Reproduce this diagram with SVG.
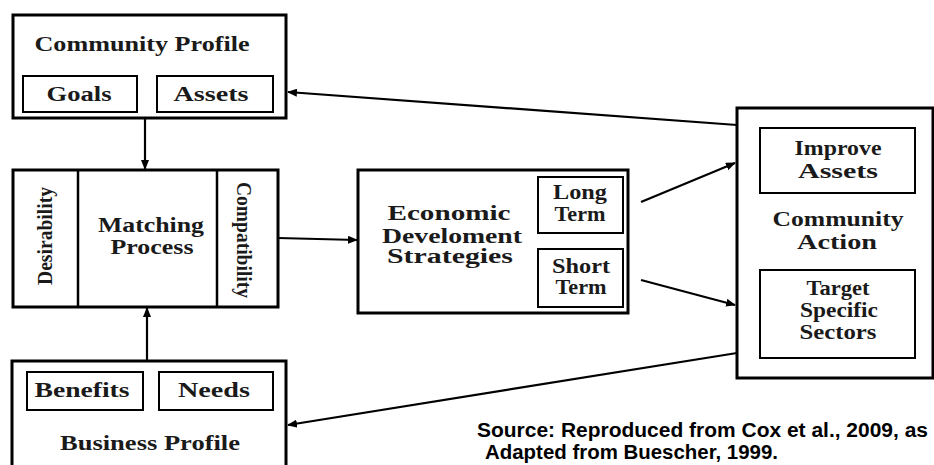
<svg xmlns="http://www.w3.org/2000/svg" width="934" height="465" viewBox="0 0 934 465">
<style>
.outer{fill:#fff;stroke:#000;stroke-width:3}
.inner{fill:#fff;stroke:#000;stroke-width:2}
.t{font-family:"Liberation Serif","Times New Roman",serif;font-weight:bold;font-size:20px;fill:#1a1a1a;text-anchor:middle}
.src{font-family:"Liberation Sans",Arial,sans-serif;font-weight:bold;font-size:19.5px;fill:#000}
.c{stroke:#000;stroke-width:2.2;fill:none;marker-end:url(#ah)}
</style>
<defs>
<marker id="ah" markerWidth="10" markerHeight="8" refX="9" refY="4" orient="auto" markerUnits="userSpaceOnUse">
<path d="M0,0 L10,4 L0,8 Z" fill="#000"/>
</marker>
</defs>
<rect width="934" height="465" fill="#fff"/>
<g id="community-profile">
<rect class="outer" x="13" y="15" width="273" height="103"/>
<text class="t" x="142" y="51" textLength="215" lengthAdjust="spacingAndGlyphs">Community Profile</text>
<rect class="inner" x="23" y="76" width="114" height="36"/>
<text class="t" x="79" y="101" textLength="65" lengthAdjust="spacingAndGlyphs">Goals</text>
<rect class="inner" x="157" y="76" width="116" height="36"/>
<text class="t" x="211" y="101" textLength="75" lengthAdjust="spacingAndGlyphs">Assets</text>
</g>
<g id="matching-process">
<rect class="outer" x="13" y="170" width="265" height="137"/>
<line x1="78" y1="170" x2="78" y2="307" stroke="#000" stroke-width="2.5"/>
<line x1="217" y1="170" x2="217" y2="307" stroke="#000" stroke-width="2.5"/>
<text class="t" transform="translate(52,236) rotate(-90)" textLength="98" lengthAdjust="spacingAndGlyphs">Desirability</text>
<text class="t" transform="translate(237,240) rotate(90)" textLength="116" lengthAdjust="spacingAndGlyphs">Compatibility</text>
<text class="t" x="151" y="232" textLength="106" lengthAdjust="spacingAndGlyphs">Matching</text>
<text class="t" x="152" y="254" textLength="83" lengthAdjust="spacingAndGlyphs">Process</text>
</g>
<g id="business-profile">
<rect class="outer" x="12" y="361" width="274" height="110"/>
<rect class="inner" x="27" y="372" width="116" height="38"/>
<text class="t" x="82" y="397" textLength="95" lengthAdjust="spacingAndGlyphs">Benefits</text>
<rect class="inner" x="159" y="372" width="114" height="38"/>
<text class="t" x="214" y="397" textLength="72" lengthAdjust="spacingAndGlyphs">Needs</text>
<text class="t" x="150" y="450" textLength="180" lengthAdjust="spacingAndGlyphs">Business Profile</text>
</g>
<g id="economic-strategies">
<rect class="outer" x="358" y="170" width="270" height="143"/>
<text class="t" x="449" y="220" textLength="123" lengthAdjust="spacingAndGlyphs">Economic</text>
<text class="t" x="452" y="243" textLength="140" lengthAdjust="spacingAndGlyphs">Develoment</text>
<text class="t" x="450" y="263" textLength="126" lengthAdjust="spacingAndGlyphs">Strategies</text>
<rect class="inner" x="538" y="177" width="85" height="56"/>
<text class="t" x="580" y="199" textLength="54" lengthAdjust="spacingAndGlyphs">Long</text>
<text class="t" x="580" y="221" textLength="51" lengthAdjust="spacingAndGlyphs">Term</text>
<rect class="inner" x="538" y="249" width="85" height="58"/>
<text class="t" x="581" y="273" textLength="58" lengthAdjust="spacingAndGlyphs">Short</text>
<text class="t" x="581" y="294" textLength="51" lengthAdjust="spacingAndGlyphs">Term</text>
</g>
<g id="community-action">
<rect class="outer" x="737" y="108" width="196" height="270"/>
<rect class="inner" x="760" y="128" width="155" height="65"/>
<text class="t" x="838" y="155" textLength="87" lengthAdjust="spacingAndGlyphs">Improve</text>
<text class="t" x="838" y="178" textLength="80" lengthAdjust="spacingAndGlyphs">Assets</text>
<text class="t" x="838" y="226" textLength="131" lengthAdjust="spacingAndGlyphs">Community</text>
<text class="t" x="837" y="249" textLength="80" lengthAdjust="spacingAndGlyphs">Action</text>
<rect class="inner" x="760" y="270" width="155" height="88"/>
<text class="t" x="838" y="295" textLength="63" lengthAdjust="spacingAndGlyphs">Target</text>
<text class="t" x="839" y="317" textLength="78" lengthAdjust="spacingAndGlyphs">Specific</text>
<text class="t" x="838" y="339" textLength="77" lengthAdjust="spacingAndGlyphs">Sectors</text>
</g>
<g id="connectors">
<line class="c" x1="737" y1="125" x2="288" y2="92"/>
<line class="c" x1="145" y1="118" x2="145" y2="169"/>
<line class="c" x1="147" y1="361" x2="147" y2="308"/>
<line class="c" x1="278" y1="238" x2="357" y2="240"/>
<line class="c" x1="641" y1="202" x2="735" y2="163"/>
<line class="c" x1="641" y1="280" x2="735" y2="305"/>
<line class="c" x1="737" y1="353" x2="288" y2="425"/>
</g>
<g id="source">
<text class="src" x="477" y="437" textLength="451" lengthAdjust="spacingAndGlyphs">Source: Reproduced from Cox et al., 2009, as</text>
<text class="src" x="485" y="459" textLength="293" lengthAdjust="spacingAndGlyphs">Adapted from Buescher, 1999.</text>
</g>
</svg>
